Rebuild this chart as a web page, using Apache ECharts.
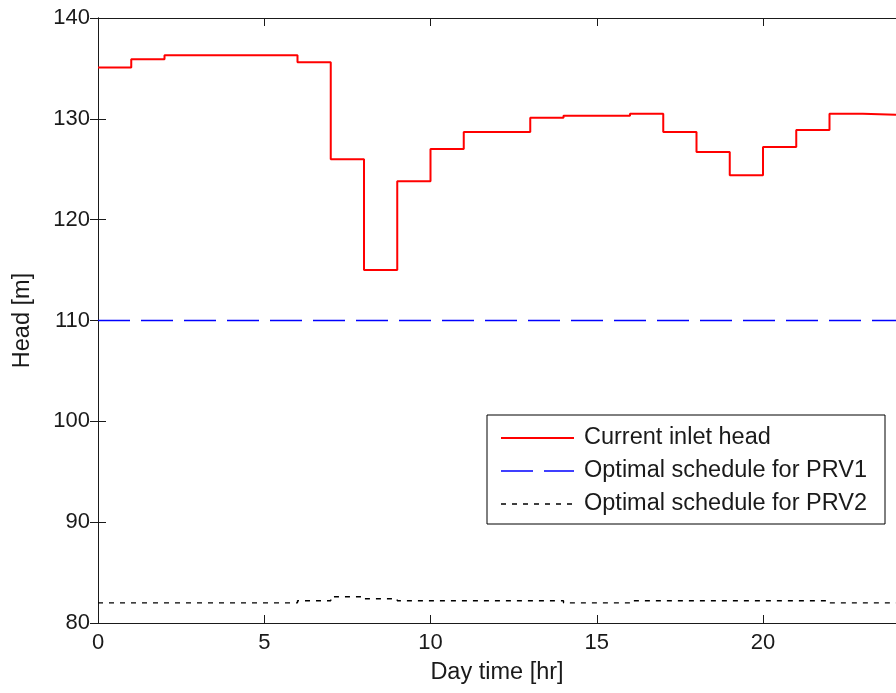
<!DOCTYPE html>
<html>
<head>
<meta charset="utf-8">
<script src="https://cdn.jsdelivr.net/npm/echarts@6/dist/echarts.min.js"></script>
<style>
  html, body { margin: 0; padding: 0; background: #fff; }
  #chart { width: 896px; height: 693px; }
</style>
</head>
<body>
<div id="chart"></div>
<script>
// Hourly values; each value holds from its hour until the next one (stairs).
const hours = [0, 1, 2, 3, 4, 5, 6, 7, 8, 9, 10, 11, 12, 13, 14, 15, 16, 17, 18, 19, 20, 21, 22, 23, 24];
const inletHead = [135.1, 135.9, 136.3, 136.3, 136.3, 136.3, 135.6, 126.0, 115.0, 123.8, 127.0, 128.7,
                   128.7, 130.1, 130.3, 130.3, 130.5, 128.7, 126.7, 124.4, 127.2, 128.9, 130.5, 130.4, 130.4];
const prv1Schedule = [110, 110, 110, 110, 110, 110, 110, 110, 110, 110, 110, 110,
                      110, 110, 110, 110, 110, 110, 110, 110, 110, 110, 110, 110, 110];
const prv2Schedule = [82.0, 82.0, 82.0, 82.0, 82.0, 82.0, 82.2, 82.6, 82.4, 82.2, 82.2, 82.2,
                      82.2, 82.2, 82.0, 82.0, 82.2, 82.2, 82.2, 82.2, 82.2, 82.2, 82.0, 82.0, 82.0];
const seriesNames = ['Current inlet head', 'Optimal schedule for PRV1', 'Optimal schedule for PRV2'];
const xTicks = [0, 5, 10, 15, 20];

const FONT = '"Liberation Sans", Arial, sans-serif';
const INK = '#1a1a1a';
const pairs = (vals) => hours.map((h, i) => [h, vals[i]]);

// Line looks shared by each series and its legend entry
const styles = [
  { color: '#ff0000', width: 2, type: 'solid' },
  { color: '#0000ff', width: 1.6, type: [32, 11] },
  { color: '#000000', width: 1.4, type: [5, 6] }
];

const chart = echarts.init(document.getElementById('chart'), null, { renderer: 'canvas' });

const axisLine = { show: true, lineStyle: { color: INK, width: 1 } };
const axisTick = { show: true, inside: true, length: 8, lineStyle: { color: INK, width: 1 } };

chart.setOption({
  animation: false,
  backgroundColor: '#fff',
  grid: { left: 98, top: 18, width: 800, height: 605 },
  legend: {
    orient: 'vertical',
    left: 487,
    top: 415,
    backgroundColor: '#fff',
    borderColor: '#000',
    borderWidth: 1,
    borderRadius: 0,
    padding: [10, 18, 7, 13],
    itemWidth: 73,
    itemHeight: 14,
    itemGap: 7,
    textStyle: { fontFamily: FONT, fontSize: 23.5, color: INK, lineHeight: 26, padding: [0, 0, 0, 5] },
    data: seriesNames.map((n, i) => ({
      name: n,
      itemStyle: { opacity: 0 },
      lineStyle: styles[i]
    }))
  },
  xAxis: [
    {
      type: 'value', min: 0, max: 24, interval: 5,
      name: 'Day time [hr]', nameLocation: 'middle', nameGap: 38,
      nameTextStyle: { fontFamily: FONT, fontSize: 23.5, color: INK },
      axisLine,
      axisTick: Object.assign({ customValues: xTicks }, axisTick),
      axisLabel: { fontFamily: FONT, fontSize: 22, color: INK, margin: 9, customValues: xTicks },
      splitLine: { show: false }
    },
    {
      type: 'value', min: 0, max: 24, interval: 5, position: 'top',
      axisLine,
      axisTick: Object.assign({ customValues: xTicks }, axisTick),
      axisLabel: { show: false }, splitLine: { show: false }
    }
  ],
  yAxis: [
    {
      type: 'value', min: 80, max: 140, interval: 10,
      name: 'Head [m]', nameLocation: 'middle', nameGap: 63, nameRotate: 90,
      nameTextStyle: { fontFamily: FONT, fontSize: 23.5, color: INK },
      axisLine, axisTick,
      axisLabel: { fontFamily: FONT, fontSize: 22, color: INK, margin: 8 },
      splitLine: { show: false }
    },
    {
      type: 'value', min: 80, max: 140, interval: 10, position: 'right',
      axisLine, axisTick, axisLabel: { show: false }, splitLine: { show: false }
    }
  ],
  series: [inletHead, prv1Schedule, prv2Schedule].map((vals, i) => ({
    name: seriesNames[i], type: 'line', step: 'end', symbol: 'none',
    data: pairs(vals),
    lineStyle: styles[i],
    itemStyle: { color: styles[i].color }
  }))
});
</script>
</body>
</html>
